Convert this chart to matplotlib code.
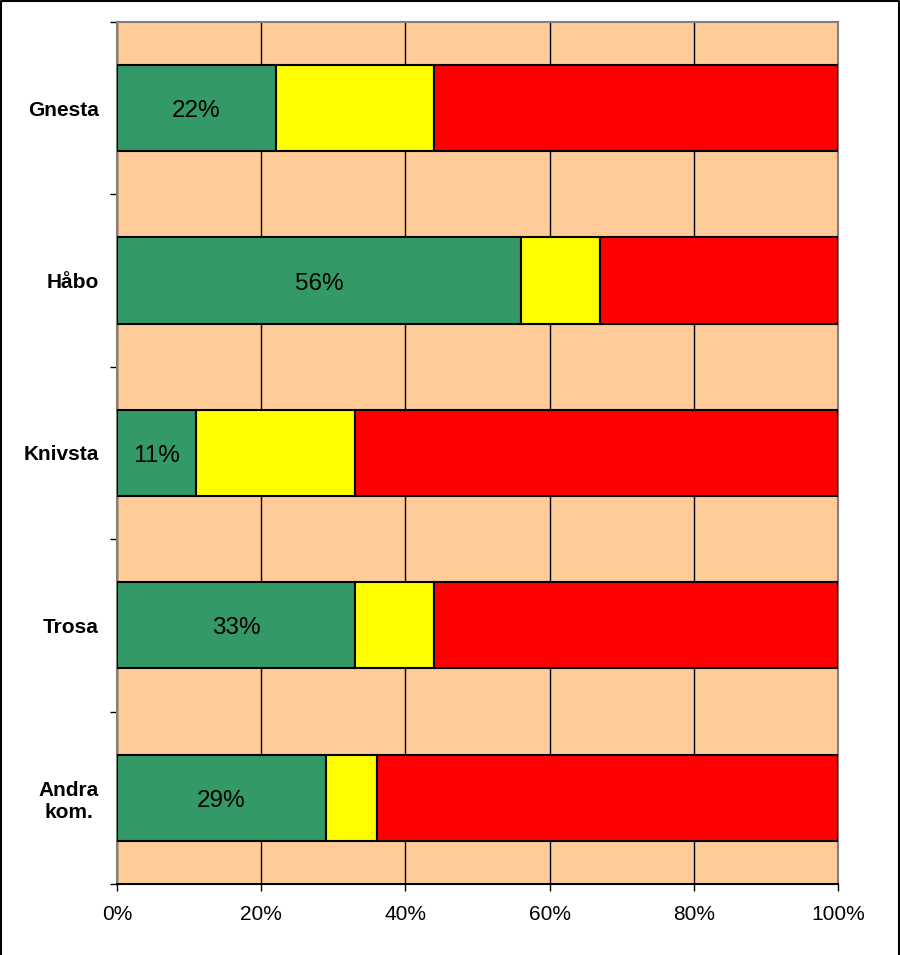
import matplotlib
matplotlib.use("Agg")
import matplotlib.pyplot as plt
from matplotlib.lines import Line2D
from matplotlib.ticker import FixedLocator, PercentFormatter

categories = ["Gnesta", "Håbo", "Knivsta", "Trosa", "Andra\nkom."]
green = [22, 56, 11, 33, 29]
yellow = [22, 11, 22, 11, 7]
red = [56, 33, 67, 56, 64]
x_ticks = [0, 20, 40, 60, 80, 100]

plt.rcParams['font.family'] = ['Liberation Sans', 'DejaVu Sans']

fig = plt.figure(figsize=(9, 9.55), dpi=100)
ax = fig.add_axes([117/900, 1-884/955, (838-117)/900, (884-22)/955])
ax.set_facecolor('#FFCC99')

ypos = list(range(len(categories)))
h = 0.5
ax.barh(ypos, green, height=h, color='#339966', edgecolor='black', linewidth=1.5, zorder=3)
left2 = green
ax.barh(ypos, yellow, left=left2, height=h, color='#FFFF00', edgecolor='black', linewidth=1.5, zorder=3)
left3 = [g + y for g, y in zip(green, yellow)]
ax.barh(ypos, red, left=left3, height=h, color='#FF0000', edgecolor='black', linewidth=1.5, zorder=3)

for yi, g in zip(ypos, green):
    ax.annotate(f"{g}%", xy=(g / 2, yi), xytext=(0, -2.2), textcoords='offset points',
                ha='center', va='center', fontsize=17.5, color='black', zorder=4)

ax.set_xlim(0, 100)
ax.set_ylim(len(categories) - 0.5, -0.5)
ax.xaxis.set_major_locator(FixedLocator(x_ticks))
ax.xaxis.set_major_formatter(PercentFormatter(100, decimals=0))
ax.grid(axis='x', color='black', linewidth=1, zorder=1)
ax.set_axisbelow(True)

ax.set_yticks(ypos)
ax.set_yticklabels(categories, fontweight='bold', fontsize=15, multialignment='center')
ax.yaxis.set_minor_locator(FixedLocator([i - 0.5 for i in range(len(categories) + 1)]))
ax.tick_params(axis='y', which='major', length=0, pad=13)
ax.tick_params(axis='y', which='minor', length=5, width=1, color='black', direction='out')
ax.tick_params(axis='x', which='major', length=5, width=1, color='black', direction='out', labelsize=15, pad=10)

for s in ['left', 'top', 'right']:
    ax.spines[s].set_color('#808080')
    ax.spines[s].set_linewidth(1.5)
ax.spines['bottom'].set_color('black')
ax.spines['bottom'].set_linewidth(1.5)

# figure frame (left, top, right)
fx = [0.0012, 0.0012, 0.9985, 0.9985]
fy = [0.0, 0.9988, 0.9988, 0.0]
fig.add_artist(Line2D(fx, fy, transform=fig.transFigure, color='black', linewidth=1.5))

fig.savefig("out.png", dpi=100)
